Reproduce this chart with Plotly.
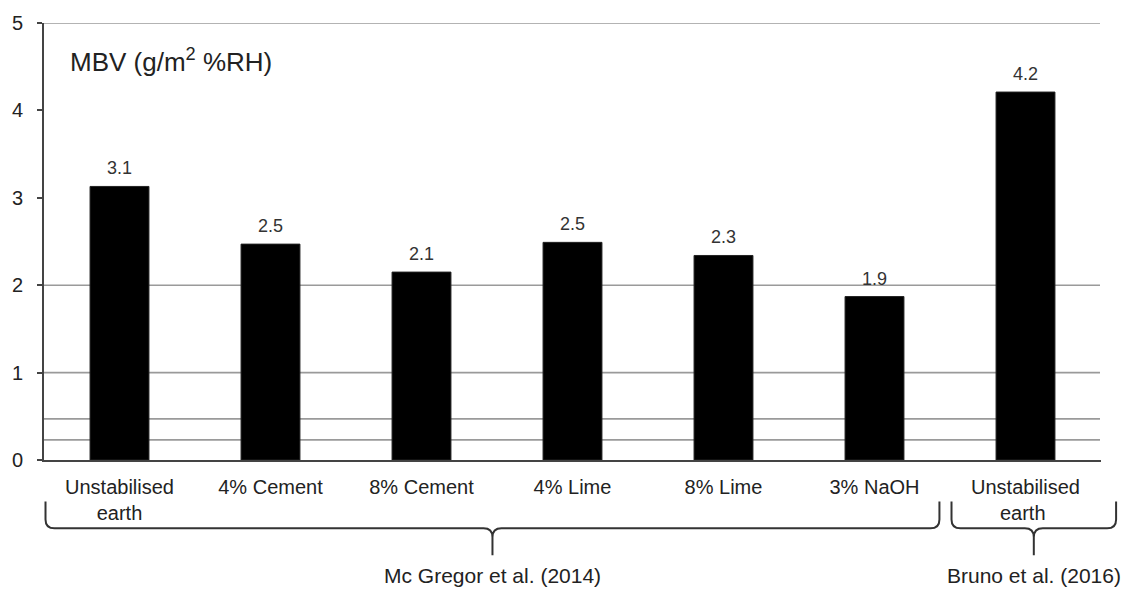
import plotly.graph_objects as go

categories = ["Unstabilised<br>earth", "4% Cement", "8% Cement", "4% Lime", "8% Lime", "3% NaOH", "Unstabilised<br>earth "]
mbv_values = [3.13, 2.47, 2.15, 2.49, 2.34, 1.87, 4.21]
y_ticks = [0, 1, 2, 3, 4, 5]
grid_values = [0.23, 0.47, 1, 2, 5]
groups = [
    {"label": "Mc Gregor et al. (2014)", "start": -0.49, "end": 5.43},
    {"label": "Bruno et al. (2016)", "start": 5.51, "end": 6.6},
]
y_title = "MBV (g/m<sup>2</sup> %RH)"

W, H = 1142, 592
ML, MR, MT, MB = 42, 41, 19, 132
PW = W - ML - MR
PH = H - MT - MB
n = len(categories)

FONT = "Liberation Sans, Arial, sans-serif"

fig = go.Figure()
fig.add_trace(go.Bar(
    x=categories, y=mbv_values,
    marker=dict(color="black", line=dict(color="#222", width=1)),
    width=0.39,
    hoverinfo="x+y",
))

def cat_to_paper(c):
    return (c + 0.5) / n

def px_to_paper_y(p):
    return ((H - MB) - p) / PH

shapes = []
for g in grid_values:
    shapes.append(dict(type="line", xref="paper", yref="y", x0=0, x1=1.0 - 1 / PW,
                       y0=g, y1=g, line=dict(color="#9a9a9a", width=1.6), layer="below"))

y_top = px_to_paper_y(502)
y_h = px_to_paper_y(529)
y_tip = px_to_paper_y(556)
ry = 9 / PH
annotations = []
for grp in groups:
    xa = cat_to_paper(grp["start"])
    xb = cat_to_paper(grp["end"])
    xm = (xa + xb) / 2
    rx = 9 / PW
    path = (
        f"M {xa},{y_top} L {xa},{y_h + ry} Q {xa},{y_h} {xa + rx},{y_h} "
        f"L {xm - rx},{y_h} Q {xm},{y_h} {xm},{y_h - ry} L {xm},{y_tip} "
        f"M {xm},{y_h - ry} Q {xm},{y_h} {xm + rx},{y_h} "
        f"L {xb - rx},{y_h} Q {xb},{y_h} {xb},{y_h + ry} L {xb},{y_top}"
    )
    shapes.append(dict(type="path", xref="paper", yref="paper", path=path,
                       line=dict(color="#333", width=2)))
    annotations.append(dict(xref="paper", yref="paper", x=xm, y=px_to_paper_y(577),
                            text=grp["label"], showarrow=False, yanchor="middle",
                            xanchor="center",
                            font=dict(family=FONT, size=21, color="#222")))

for cat, v in zip(categories, mbv_values):
    annotations.append(dict(x=cat, y=v, text=f"{v:.1f}", showarrow=False,
                            yanchor="bottom", yshift=6,
                            font=dict(family=FONT, size=18, color="#333")))

annotations.append(dict(xref="paper", yref="paper", x=(66 - ML) / PW, y=px_to_paper_y(38),
                        text=y_title, showarrow=False, xanchor="left", yanchor="top",
                        font=dict(family=FONT, size=26, color="#222")))

fig.update_layout(
    width=W, height=H,
    margin=dict(l=ML, r=MR, t=MT, b=MB),
    paper_bgcolor="white", plot_bgcolor="white",
    showlegend=False,
    shapes=shapes,
    annotations=annotations,
    font=dict(family=FONT, color="#222"),
    xaxis=dict(
        range=[-0.5, n - 0.5],
        showline=True, linecolor="#444", linewidth=2,
        ticks="", showgrid=False,
        tickfont=dict(family=FONT, size=20, color="#222"),
        ticklabelstandoff=8,
        fixedrange=True,
    ),
    yaxis=dict(
        range=[0, 5],
        tickvals=y_ticks,
        showline=True, linecolor="#444", linewidth=2,
        ticks="outside", ticklen=5, tickcolor="#444", tickwidth=2,
        showgrid=False, zeroline=False,
        tickfont=dict(family=FONT, size=20, color="#222"),
        ticklabelstandoff=10,
        fixedrange=True,
    ),
)

fig.write_html("out.html", config={"displayModeBar": False},
               post_script="document.body.style.margin='0';document.body.style.padding='0';")
